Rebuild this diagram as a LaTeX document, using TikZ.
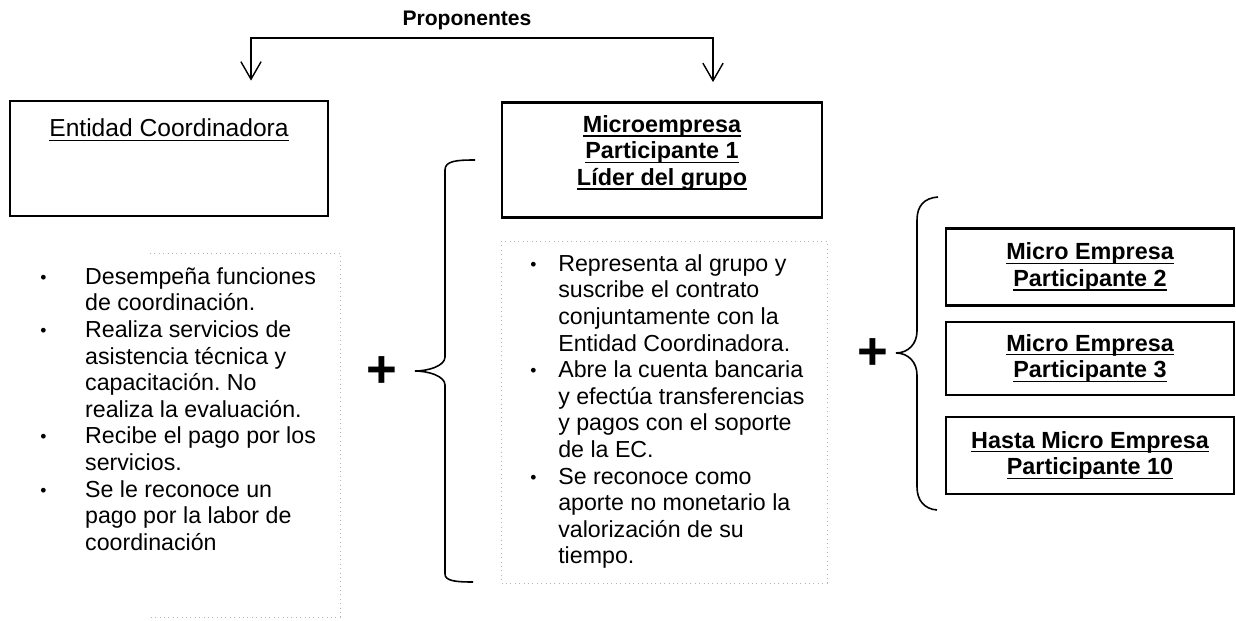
\documentclass[tikz,border=0pt]{standalone}
\usepackage{fontspec}
\setmainfont{Liberation Sans}
\usetikzlibrary{arrows.meta}
\definecolor{dotgray}{HTML}{B4B4B4}
\frenchspacing
\newsavebox{\cajatxt}
\newcommand{\subr}[1]{\sbox{\cajatxt}{#1}\rlap{\rule[-2.4pt]{\wd\cajatxt}{0.75pt}}\usebox{\cajatxt}}
\newcommand{\punto}[2]{\makebox[#1][l]{\raisebox{0.5pt}{\fontsize{10}{10}\selectfont\textbullet}}#2}
\newcommand{\sigue}[2]{\hspace*{#1}#2}

\begin{document}
\begin{tikzpicture}[x=0.02cm, y=-0.02cm,
  caja/.style={draw, line width=1.2pt, inner sep=0pt},
  titulo/.style={font=\fontsize{13.3}{15.1}\selectfont\bfseries, align=center},
  lista/.style={font=\fontsize{13.2}{15.15}\selectfont, align=left, anchor=north west, inner sep=0pt},
  flecha/.style={line width=0.8pt, {Straight Barb[length=10pt,width=11.5pt]}-{Straight Barb[length=10pt,width=11.5pt]}, shorten <=11pt, shorten >=11pt},
  llave/.style={line width=0.9pt},
  borde/.style={dotgray, dotted, line width=0.5pt},
  mas/.style={font=\fontsize{30}{30}\selectfont\bfseries, inner sep=0pt}]
  \useasboundingbox (0,0) rectangle (1236,621);

  % proponentes
  \node[font=\fontsize{12}{12}\selectfont\bfseries] (prop) at (467,20) {Proponentes};
  \node[caja, minimum width=6.36cm, minimum height=2.30cm] (ec) at (169,158.5) {};
  \node[caja, minimum width=6.40cm, minimum height=2.30cm] (mp) at (662,160) {};
  \coordinate (barL) at (251,38);
  \coordinate (barR) at (713,38);
  \draw[flecha] (barL |- ec.north) -- (barL) -- (barR) -- (barR |- mp.north);

  % titles
  \node[font=\fontsize{14}{16}\selectfont] (ect) at (169,130) {\subr{Entidad Coordinadora}};
  \node[titulo] (mpt) at (662,153) {\subr{Microempresa}\\\subr{Participante 1}\\\subr{Líder del grupo}};

  % dotted frames
  \draw[borde] (150,253) -- (340,253) -- (340,617) -- (150,617);
  \draw[borde] (501,241) rectangle (827,583);

  % lists
  \node[lista] (ecl) at (40,267) {%
    \punto{25.5pt}{Desempeña funciones}\\
    \sigue{25.5pt}{de coordinación.}\\
    \punto{25.5pt}{Realiza servicios de}\\
    \sigue{25.5pt}{asistencia técnica y}\\
    \sigue{25.5pt}{capacitación. No}\\
    \sigue{25.5pt}{realiza la evaluación.}\\
    \punto{25.5pt}{Recibe el pago por los}\\
    \sigue{25.5pt}{servicios.}\\
    \punto{25.5pt}{Se le reconoce un}\\
    \sigue{25.5pt}{pago por la labor de}\\
    \sigue{25.5pt}{coordinación}};
  \node[lista] (mpl) at (530,254) {%
    \punto{15.9pt}{Representa al grupo y}\\
    \sigue{15.9pt}{suscribe el contrato}\\
    \sigue{15.9pt}{conjuntamente con la}\\
    \sigue{15.9pt}{Entidad Coordinadora.}\\
    \punto{15.9pt}{Abre la cuenta bancaria}\\
    \sigue{15.9pt}{y efectúa transferencias}\\
    \sigue{15.9pt}{y pagos con el soporte}\\
    \sigue{15.9pt}{de la EC.}\\
    \punto{15.9pt}{Se reconoce como}\\
    \sigue{15.9pt}{aporte no monetario la}\\
    \sigue{15.9pt}{valorización de su}\\
    \sigue{15.9pt}{tiempo.}};

  % plus signs and braces
  \node[mas] (mas1) at (382,372) {+};
  \node[mas] (mas2) at (873,354) {+};
  \draw[llave] (475,160) .. controls (456,160) and (445,161) .. (445,170) -- (445,357)
    .. controls (445,366) and (428,371) .. (415,371) .. controls (428,371) and (445,376) .. (445,385)
    -- (445,574) .. controls (445,581) and (456,582) .. (473,582);
  \draw[llave] (938,197) .. controls (924,198) and (917,206) .. (917,220) -- (917,331)
    .. controls (917,344) and (908,353) .. (896,353) .. controls (908,353) and (917,362) .. (917,375)
    -- (917,487) .. controls (917,500) and (924,509) .. (937,510);

  % other participants
  \node[caja, titulo, minimum width=5.76cm, minimum height=1.54cm] (me2) at (1090,267) {\subr{Micro Empresa}\\\subr{Participante 2}};
  \node[caja, titulo, minimum width=5.76cm, minimum height=1.46cm] (me3) at (1090,358.5) {\subr{Micro Empresa}\\\subr{Participante 3}};
  \node[caja, titulo, minimum width=5.76cm, minimum height=1.54cm] (me10) at (1090,455.5) {\subr{Hasta Micro Empresa}\\\subr{Participante 10}};
\end{tikzpicture}
\end{document}
